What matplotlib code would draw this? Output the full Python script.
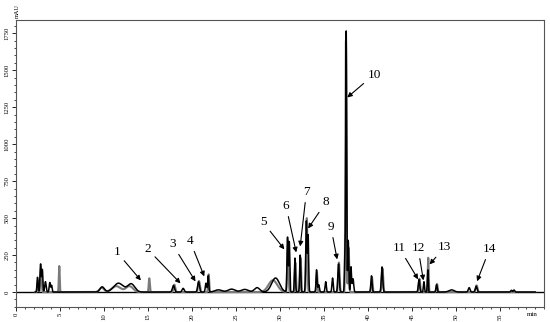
import numpy as np
import matplotlib
matplotlib.use("Agg")
import matplotlib.pyplot as plt
from matplotlib.ticker import MultipleLocator

# peak tables: retention time (min), height (mAU), width (min)
black_rt = [2.45, 2.8, 3.0, 3.35, 3.85, 4.05, 9.8, 11.65, 13.1, 17.9, 19.0, 20.75, 21.6, 21.85,
            23.0, 24.5, 26.0, 27.4, 29.5, 30.86, 31.06, 31.7, 32.3, 33.0, 33.2, 34.16, 34.4,
            35.2, 35.98, 36.66, 37.39, 37.53, 37.76, 38.07, 38.3, 40.4, 41.6, 45.8, 46.36,
            46.8, 47.8, 49.5, 51.5, 52.3, 56.3, 56.6]
black_h = [100, 190, 150, 70, 65, 45, 35, 60, 55, 45, 25, 70, 60, 110,
           15, 20, 18, 30, 95, 370, 340, 230, 250, 480, 380, 150, 50,
           70, 95, 190, 240, 1750, 350, 170, 90, 110, 170, 85, 70,
           150, 50, 15, 30, 40, 12, 14]
black_w = [0.06, 0.07, 0.06, 0.08, 0.07, 0.06, 0.25, 0.55, 0.4, 0.12, 0.12, 0.1, 0.08, 0.06,
           0.4, 0.4, 0.4, 0.3, 0.45, 0.06, 0.06, 0.06, 0.06, 0.07, 0.06, 0.06, 0.08,
           0.07, 0.07, 0.08, 0.06, 0.05, 0.06, 0.06, 0.08, 0.07, 0.08, 0.08, 0.06,
           0.05, 0.07, 0.3, 0.1, 0.1, 0.08, 0.08]

grey_rt = [2.5, 2.85, 4.92, 9.75, 11.4, 12.9, 15.15, 18.0, 20.8, 21.9, 29.2, 30.9, 31.75,
           32.35, 33.05, 34.2, 36.7, 37.5, 37.8, 40.45, 41.65, 45.85, 46.85, 47.85, 52.35]
grey_h = [80, 160, 176, 30, 40, 40, 93, 50, 75, 120, 80, 350, 200,
          230, 500, 130, 200, 1700, 300, 100, 160, 90, 232, 55, 45]
grey_w = [0.06, 0.07, 0.05, 0.25, 0.5, 0.4, 0.06, 0.1, 0.1, 0.06, 0.5, 0.07, 0.06,
          0.06, 0.07, 0.06, 0.08, 0.06, 0.06, 0.07, 0.08, 0.08, 0.05, 0.07, 0.1]

labels = ["1", "2", "3", "4", "5", "6", "7", "8", "9", "10", "11", "12", "13", "14"]
label_t = [11.5, 15.0, 17.8, 19.8, 28.1, 30.7, 33.0, 35.2, 35.8, 40.7, 43.6, 45.7, 48.7, 53.8]
label_v = [268, 288, 322, 343, 471, 579, 674, 606, 437, 1471, 295, 295, 302, 288]
tip_t = [14.2, 18.7, 20.4, 21.4, 30.5, 31.85, 32.3, 33.2, 36.5, 37.65, 45.7, 46.3, 47.0, 52.4]
tip_v = [79, 59, 72, 106, 289, 268, 309, 430, 221, 1316, 86, 79, 187, 73]

t = np.linspace(2.2, 59.0, 12000)


def trace(rts, hs, ws):
    y = np.zeros_like(t)
    for r, h, w in zip(rts, hs, ws):
        y += h * np.exp(-0.5 * ((t - r) / w) ** 2)
    return y


fig = plt.figure(figsize=(5.5, 3.22), dpi=100)
ax = fig.add_axes([0.029, 0.047, 0.96, 0.891])

ax.axhline(0, color="black", lw=1.0, zorder=1)
ax.plot(t, trace(grey_rt, grey_h, grey_w), color="#7a7a7a", lw=1.5, zorder=2)
ax.plot(t, trace(black_rt, black_h, black_w), color="black", lw=1.1, zorder=3)

for lab, lt, lv, tt, tv in zip(labels, label_t, label_v, tip_t, tip_v):
    ax.annotate(lab, xy=(tt, tv), xytext=(lt, lv), ha="center", va="center",
                fontsize=9.5, family="Liberation Serif",
                arrowprops=dict(arrowstyle="-|>", color="black", lw=0.8,
                                mutation_scale=7, shrinkA=1, shrinkB=0))

ax.set_xlim(0, 60)
ax.set_ylim(-100, 1840)
ax.xaxis.set_minor_locator(MultipleLocator(1))
ax.yaxis.set_major_locator(MultipleLocator(250))
ax.yaxis.set_minor_locator(MultipleLocator(50))
ax.set_xticks(np.arange(0, 60, 5))
ax.tick_params(axis="both", which="major", length=3, width=0.6, labelsize=4.8, pad=1.5)
ax.tick_params(axis="both", which="minor", length=1.5, width=0.5)
for lab in ax.get_xticklabels() + ax.get_yticklabels():
    lab.set_rotation(90)
    lab.set_family("Liberation Serif")
for lab in ax.get_yticklabels():
    lab.set_va("center")
for s in ax.spines.values():
    s.set_color("#555555")
    s.set_linewidth(0.8)

fig.text(0.967, 0.018, "min", fontsize=5, family="Liberation Serif", ha="center")
fig.text(0.031, 0.965, "mAU", fontsize=4.5, family="Liberation Serif", rotation=90,
         ha="center", va="center")

fig.savefig("out.png", dpi=100)
